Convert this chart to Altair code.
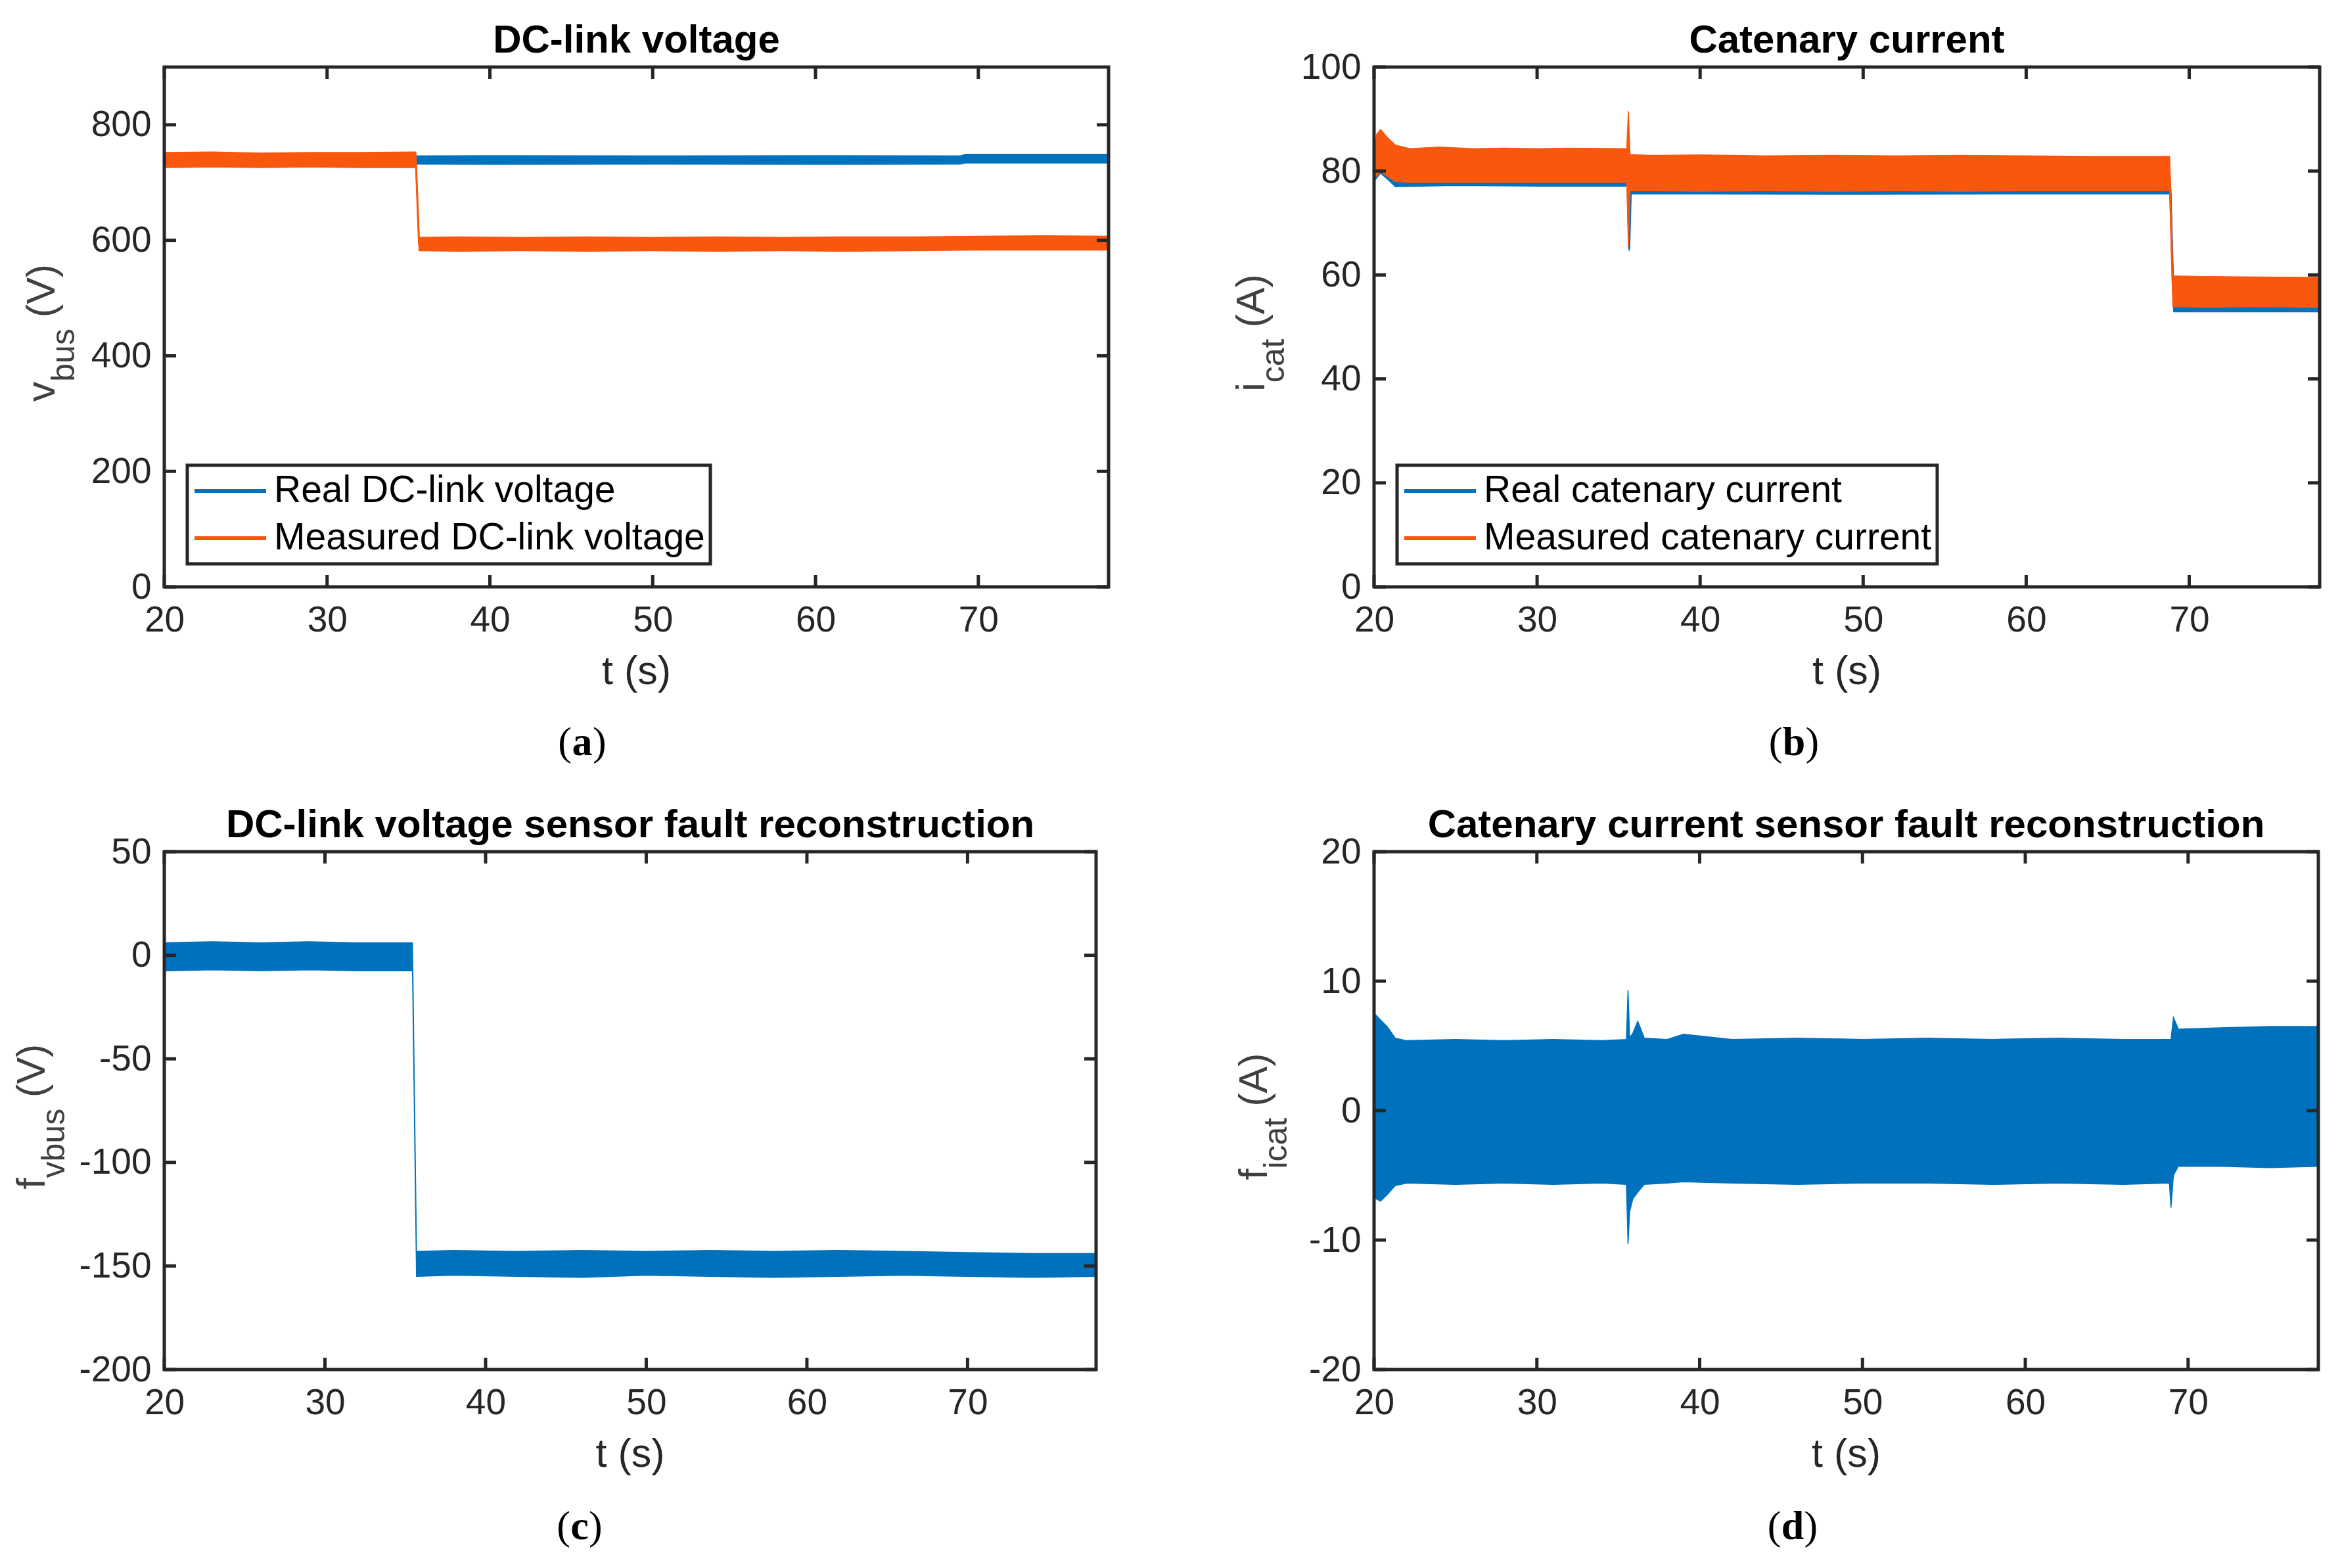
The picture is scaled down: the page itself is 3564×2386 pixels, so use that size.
import altair as alt
import pandas as pd

# ---------------- data ----------------
X_DOMAIN = [20, 78]
X_TICKS = [20, 30, 40, 50, 60, 70]

# (a) DC-link voltage
A_Y_DOMAIN = [0, 900]
A_Y_TICKS = [0, 200, 400, 600, 800]
A_NAMES = ["Real DC-link voltage", "Measured DC-link voltage"]
A_REAL_T = [20, 30, 35.6, 40, 50, 60, 68.9, 69.2, 78]
A_REAL_LO = [732, 732, 732, 731.5, 732, 731.5, 732, 734, 734]
A_REAL_HI = [746, 746, 746, 746.5, 746, 746.5, 746, 749, 749]
A_REAL_LINE_T = [20, 68.9, 69.2, 78]
A_REAL_LINE_V = [739, 739, 741, 741]
A_MEAS_T = [20, 23, 26, 29, 32, 35.45, 35.65, 38, 42, 46, 50, 54, 58, 62, 66, 70, 74, 78]
A_MEAS_LO = [726, 727, 726, 727, 726, 726, 582, 581, 582, 581, 582, 581, 582, 581, 582, 583, 583, 583]
A_MEAS_HI = [752, 753, 751, 752, 752, 753, 605, 606, 605, 606, 605, 606, 605, 606, 606, 607, 608, 607]
A_MEAS_LINE_T = [20, 35.45, 35.65, 78]
A_MEAS_LINE_V = [739, 739, 593, 594]

# (b) Catenary current
B_Y_DOMAIN = [0, 100]
B_Y_TICKS = [0, 20, 40, 60, 80, 100]
B_NAMES = ["Real catenary current", "Measured catenary current"]
B_REAL_T = [20, 20.4, 20.8, 21.3, 25, 30, 35.55, 35.65, 35.75, 40, 50, 60, 68.85, 69.05, 72, 78]
B_REAL_LO = [78, 79.6, 78.5, 77, 77.2, 77.1, 77.1, 64.6, 75.6, 75.6, 75.5, 75.6, 75.6, 52.9, 52.9, 52.9]
B_REAL_HI = [82, 81, 80, 79, 79, 79, 79, 72, 77.5, 77.5, 77.5, 77.5, 77.5, 55, 55, 55]
B_REAL_LINE_T = [20, 20.4, 21.3, 35.55, 35.65, 35.75, 68.85, 69.05, 78]
B_REAL_LINE_V = [80, 80, 78, 78, 65, 76.5, 76.5, 54, 54]
B_MEAS_T = [20, 20.15, 20.4, 20.8, 21.3, 22.2, 24, 26, 28, 30, 32, 35.5, 35.6, 35.7, 37, 40, 44, 48,
            52, 56, 60, 64, 68.8, 69.0, 69.2, 71, 74, 78]
B_MEAS_LO = [80, 79, 80, 79, 78, 77.8, 77.8, 77.8, 77.8, 77.8, 77.8, 77.8, 65.5, 76.2, 76.2, 76.1, 76.2, 76.1,
             76.2, 76.1, 76.2, 76.2, 76.2, 53.9, 53.9, 53.8, 53.9, 53.8]
B_MEAS_HI = [83, 87, 88, 86.5, 85, 84.3, 84.6, 84.3, 84.4, 84.3, 84.4, 84.3, 91.5, 83.2, 83, 83.1, 82.9, 83,
             82.9, 83, 82.9, 82.8, 82.8, 59.8, 59.8, 59.7, 59.6, 59.5]
B_MEAS_LINE_T = [20, 35.5, 35.6, 35.7, 68.8, 69.0, 78]
B_MEAS_LINE_V = [81, 81, 79, 79.5, 79.5, 56.8, 56.8]

# (c) DC-link voltage sensor fault reconstruction
C_Y_DOMAIN = [-200, 50]
C_Y_TICKS = [-200, -150, -100, -50, 0, 50]
C_T = [20, 23, 26, 29, 32, 35.45, 35.7, 38, 42, 46, 50, 54, 58, 62, 66, 70, 74, 78]
C_LO = [-7.5, -7, -7.5, -7, -7.5, -7.5, -155, -154.5, -155, -155.5, -154.5, -155, -155.5, -155, -154.5,
        -155, -155.5, -155]
C_HI = [6, 6.5, 6, 6.5, 6, 6, -143, -142.5, -143, -142.5, -143, -142.5, -143, -142.5, -143, -143.5, -144, -144]

# (d) Catenary current sensor fault reconstruction
D_Y_DOMAIN = [-20, 20]
D_Y_TICKS = [-20, -10, 0, 10, 20]
D_T = [20, 20.1, 20.4, 20.8, 21.3, 22, 25, 28, 31, 34, 35.5, 35.6, 35.7, 35.9, 36.2, 36.6, 38, 39, 42, 46,
       50, 54, 58, 62, 66, 68.85, 68.95, 69.1, 69.4, 72, 75, 78]
D_HI = [7.3, 7.4, 7.0, 6.5, 5.6, 5.4, 5.5, 5.4, 5.5, 5.4, 5.5, 9.3, 5.6, 6.0, 6.9, 5.6, 5.5, 5.9, 5.5, 5.6,
        5.5, 5.6, 5.5, 5.6, 5.5, 5.5, 5.5, 7.2, 6.3, 6.4, 6.5, 6.5]
D_LO = [-6.5, -6.8, -7.0, -6.5, -5.8, -5.6, -5.7, -5.6, -5.7, -5.6, -5.7, -10.3, -7.8, -6.8, -6.3, -5.7,
        -5.6, -5.5, -5.6, -5.7, -5.6, -5.6, -5.7, -5.6, -5.7, -5.6, -7.5, -5.0, -4.3, -4.3, -4.4, -4.3]

# ---------------- style ----------------
BLUE = "#0072BD"
ORANGE = "#F9560E"
AX = "#262626"
YT = "#404040"
FONT = "Liberation Sans"
SERIF = "Liberation Serif"
TICK_FS = 55
LAB_FS = 61
SUBS_FS = 50
TITLE_FS = 60
TICK_LEN = 18
ONE = pd.DataFrame({"k": [0]})

ADV = {"v": .5, "b": .556, "u": .556, "s": .5, "i": .222, "c": .5, "a": .556, "t": .278, "f": .278,
       " ": .278, "(": .333, ")": .333, "V": .667, "A": .667}


def tw(s, fs):
    return sum(ADV[c] for c in s) * fs


def xscale():
    return alt.Scale(domain=X_DOMAIN, nice=False, zero=False)


def yscale(d):
    return alt.Scale(domain=d, nice=False, zero=False)


def x_axis():
    return alt.Axis(values=X_TICKS, title=None, ticks=False, domain=False, grid=False, labelFont=FONT,
                    labelFontSize=TICK_FS, labelColor=AX, labelPadding=24, labelFlush=False,
                    labelOverlap=False, labelExpr="'' + datum.value")


def y_axis(vals):
    return alt.Axis(values=vals, title=None, ticks=False, domain=False, grid=False, labelFont=FONT,
                    labelFontSize=TICK_FS, labelColor=AX, labelPadding=20, labelOverlap=False,
                    labelExpr="'' + datum.value")


def band(t, lo, hi, color, ydom, yvals):
    df = pd.DataFrame({"t": t, "lo": lo, "hi": hi})
    return alt.Chart(df).mark_area(color=color, interpolate="linear", stroke=color, strokeWidth=1.5,
                                   opacity=1).encode(
        x=alt.X("t:Q", scale=xscale(), axis=x_axis()),
        y=alt.Y("lo:Q", scale=yscale(ydom), axis=y_axis(yvals)),
        y2=alt.Y2("hi"))


def legend_lines(field, names, lines_t, lines_v, ydom, yvals):
    rows = []
    for name, ts, vs in zip(names, lines_t, lines_v):
        for i, (t, v) in enumerate(zip(ts, vs)):
            rows.append({"t": t, "v": v, field: name, "o": i})
    df = pd.DataFrame(rows)
    leg = alt.Legend(title=None, orient="none", legendX=35, legendY=606, direction="vertical",
                     symbolType="stroke", symbolSize=11881, symbolStrokeWidth=6, labelFont=FONT,
                     labelFontSize=57, labelColor="black", labelOffset=9, rowPadding=10, padding=8,
                     clipHeight=62, fillColor="white", strokeColor=AX, labelLimit=3000)
    return alt.Chart(df).mark_line(strokeWidth=3).encode(
        x=alt.X("t:Q", scale=xscale(), axis=x_axis()),
        y=alt.Y("v:Q", scale=yscale(ydom), axis=y_axis(yvals)),
        color=alt.Color(field + ":N", scale=alt.Scale(domain=names, range=[BLUE, ORANGE]), legend=leg),
        order="o:Q")


def text(s, x, y, fs, color, font=FONT, weight="normal", align="center", baseline="middle", angle=0):
    return alt.Chart(ONE).mark_text(text=s, font=font, fontSize=fs, fontWeight=weight, color=color,
                                    align=align, baseline=baseline, angle=angle).encode(
        x=alt.value(x), y=alt.value(y))


def frame_and_ticks(W, H, ydom, yvals):
    xt = alt.Chart(pd.DataFrame({"v": X_TICKS})).mark_rule(color=AX, strokeWidth=5)
    yt = alt.Chart(pd.DataFrame({"v": yvals})).mark_rule(color=AX, strokeWidth=5)
    xe = alt.X("v:Q", scale=xscale(), axis=x_axis())
    ye = alt.Y("v:Q", scale=yscale(ydom), axis=y_axis(yvals))
    return [
        xt.encode(x=xe, y=alt.value(H), y2=alt.value(H - TICK_LEN)),
        xt.encode(x=xe, y=alt.value(0), y2=alt.value(TICK_LEN)),
        yt.encode(y=ye, x=alt.value(0), x2=alt.value(TICK_LEN)),
        yt.encode(y=ye, x=alt.value(W - TICK_LEN), x2=alt.value(W)),
        alt.Chart(ONE).mark_rect(fillOpacity=0, stroke=AX, strokeWidth=5).encode(
            x=alt.value(0), x2=alt.value(W), y=alt.value(0), y2=alt.value(H)),
    ]


def marker(x1, x2, y):
    return alt.Chart(ONE).mark_rule(strokeOpacity=0, strokeWidth=1, color="white").encode(
        x=alt.value(x1), x2=alt.value(x2), y=alt.value(y))


def ytitle(main, sub, unit, W, H, xb):
    total = tw(main, LAB_FS) + tw(sub, SUBS_FS) + tw(" ", LAB_FS) + tw(unit, LAB_FS)
    start = H / 2 + total / 2 + 9
    y_sub = start - tw(main, LAB_FS)
    y_unit = y_sub - tw(sub, SUBS_FS) - tw(" ", LAB_FS)
    return [
        text(main, xb, start, LAB_FS, YT, align="left", baseline="alphabetic", angle=270),
        text(sub, xb + 30, y_sub, SUBS_FS, YT, align="left", baseline="alphabetic", angle=270),
        text(unit, xb, y_unit, LAB_FS, YT, align="left", baseline="alphabetic", angle=270),
    ]


def sublabel(letter, cx, cy):
    hw = {"a": 16, "b": 17.5, "c": 14, "d": 17.5}[letter]
    return [
        text("(", cx - hw, cy, 62, "black", font=SERIF, align="right"),
        text(letter, cx, cy, 62, "black", font=SERIF, weight="bold"),
        text(")", cx + hw, cy, 62, "black", font=SERIF, align="left"),
    ]


def panel(W, H, ydom, yvals, bands, title, ymain, ysub, yunit, ytx, letter, letter_x, letter_y,
          left, right, top, bottom, legend=None):
    layers = []
    if legend is not None:
        layers.append(legend)
    layers += bands
    layers += frame_and_ticks(W, H, ydom, yvals)
    layers.append(text(title, W / 2, -40, TITLE_FS, "black", weight="bold"))
    layers.append(text("t (s)", W / 2, H + 130, LAB_FS, AX))
    layers += ytitle(ymain, ysub, yunit, W, H, ytx)
    layers += sublabel(letter, letter_x, letter_y)
    layers.append(marker(-left, W + right, top))
    layers.append(marker(-left, W + right, bottom))
    return alt.layer(*layers).properties(width=W, height=H)


WA, WB, WC, WD = 1437, 1439, 1418, 1437
HT, HB = 791, 788

pa = panel(WA, HT, A_Y_DOMAIN, A_Y_TICKS,
           [band(A_REAL_T, A_REAL_LO, A_REAL_HI, BLUE, A_Y_DOMAIN, A_Y_TICKS),
            band(A_MEAS_T, A_MEAS_LO, A_MEAS_HI, ORANGE, A_Y_DOMAIN, A_Y_TICKS)],
           "DC-link voltage", "v", "bus", "(V)", -167, "a", 636, 1028,
           242, 20, -94, 1078,
           legend=legend_lines("sa", A_NAMES, [A_REAL_LINE_T, A_MEAS_LINE_T],
                               [A_REAL_LINE_V, A_MEAS_LINE_V], A_Y_DOMAIN, A_Y_TICKS))

pb = panel(WB, HT, B_Y_DOMAIN, B_Y_TICKS,
           [band(B_REAL_T, B_REAL_LO, B_REAL_HI, BLUE, B_Y_DOMAIN, B_Y_TICKS),
            band(B_MEAS_T, B_MEAS_LO, B_MEAS_HI, ORANGE, B_Y_DOMAIN, B_Y_TICKS)],
           "Catenary current", "i", "cat", "(A)", -167, "b", 639, 1028,
           384, 20, -94, 1078,
           legend=legend_lines("sb", B_NAMES, [B_REAL_LINE_T, B_MEAS_LINE_T],
                               [B_REAL_LINE_V, B_MEAS_LINE_V], B_Y_DOMAIN, B_Y_TICKS))

pc = panel(WC, HB, C_Y_DOMAIN, C_Y_TICKS,
           [band(C_T, C_LO, C_HI, BLUE, C_Y_DOMAIN, C_Y_TICKS)],
           "DC-link voltage sensor fault reconstruction", "f", "vbus", "(V)", -182, "c", 632, 1027,
           242, 20, -116, 1060)

pd_ = panel(WD, HB, D_Y_DOMAIN, D_Y_TICKS,
            [band(D_T, D_LO, D_HI, BLUE, D_Y_DOMAIN, D_Y_TICKS)],
            "Catenary current sensor fault reconstruction", "f", "icat", "(A)", -163, "d", 637, 1027,
            403, 20, -116, 1060)

row1 = alt.hconcat(pa, pb, spacing=0).resolve_scale(color="independent")
row2 = alt.hconcat(pc, pd_, spacing=0)
chart = alt.vconcat(row1, row2, spacing=0).resolve_scale(color="independent").properties(
    padding=0, background="white"
).configure_view(strokeWidth=0).configure_legend(strokeWidth=5)

chart.save("out.html", embed_options={"renderer": "svg", "actions": False})
